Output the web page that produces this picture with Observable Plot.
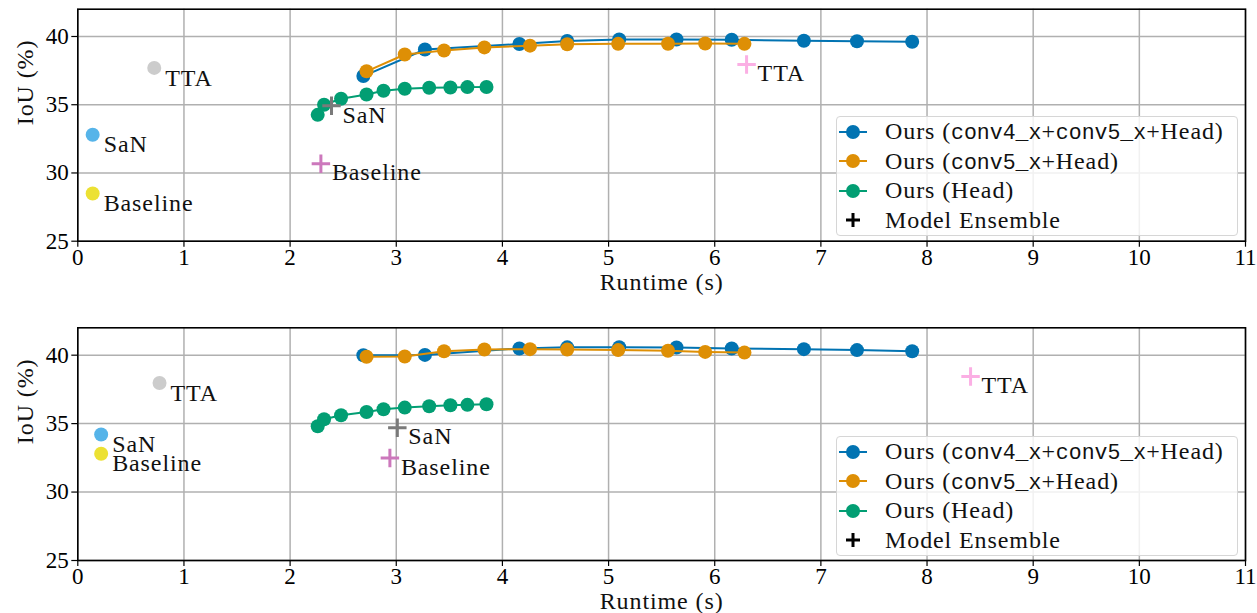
<!DOCTYPE html>
<html><head><meta charset="utf-8">
<script src="https://cdn.jsdelivr.net/npm/d3@7"></script>
<script src="https://cdn.jsdelivr.net/npm/@observablehq/plot@0.6"></script>
<style>
body{margin:0;background:#fff;}
#wrap{position:relative;width:1257px;height:613px;overflow:hidden;}
#wrap svg{display:block;}
.legend{position:absolute;left:836px;width:400px;height:118px;border:1px solid #d6d6d6;border-radius:4px;background:rgba(255,255,255,0.82);box-sizing:content-box;}
.row{height:29.5px;display:flex;align-items:center;position:relative;font-family:"Liberation Serif",serif;font-size:24px;letter-spacing:0.9px;color:#111;white-space:nowrap;}
.row svg{position:absolute;left:1px;top:4.75px;}
.row span.t{position:absolute;left:48px;}
.mono{font-family:"Liberation Mono",monospace;font-size:21.5px;letter-spacing:0;}
</style></head><body><div id="wrap"></div>
<script>
// ---- data ----
const xTicks = [0,1,2,3,4,5,6,7,8,9,10,11];
const yTicks = [25,30,35,40];
const seriesNames = ["Ours (conv4_x+conv5_x+Head)", "Ours (conv5_x+Head)", "Ours (Head)"];
const seriesColors = ["#0173B2", "#DE8F05", "#029E73"];

const allX  = [2.69, 3.27, 4.16, 4.61, 5.10, 5.64, 6.16, 6.84, 7.34, 7.86];
const c5X   = [2.72, 3.08, 3.45, 3.83, 4.26, 4.61, 5.09, 5.56, 5.91, 6.28];
const headX = [2.26, 2.32, 2.48, 2.72, 2.88, 3.08, 3.31, 3.51, 3.67, 3.85];

const allYTop  = [37.10, 39.05, 39.45, 39.67, 39.78, 39.78, 39.76, 39.69, 39.65, 39.61];
const c5YTop   = [37.45, 38.68, 38.97, 39.20, 39.33, 39.43, 39.46, 39.47, 39.49, 39.46];
const headYTop = [34.26, 35.00, 35.44, 35.75, 36.02, 36.17, 36.24, 36.26, 36.29, 36.30];

const allYBot  = [40.00, 40.02, 40.49, 40.57, 40.58, 40.56, 40.49, 40.44, 40.37, 40.29];
const c5YBot   = [39.88, 39.90, 40.29, 40.41, 40.44, 40.41, 40.37, 40.32, 40.24, 40.19];
const headYBot = [34.81, 35.32, 35.61, 35.85, 36.05, 36.17, 36.27, 36.34, 36.37, 36.41];

const soloNames  = ["TTA", "SaN", "Baseline"];
const soloColors = ["#cccccc", "#56B4E9", "#ECE133"];
const soloXTop = [0.72, 0.14, 0.14];
const soloYTop = [37.70, 32.80, 28.50];
const soloXBot = [0.77, 0.22, 0.22];
const soloYBot = [37.97, 34.20, 32.80];

const ensNames  = ["TTA", "SaN", "Baseline"];
const ensColors = ["#FBAFE4", "#7a7a7a", "#CC78BC"];
const ensXTop = [6.30, 2.39, 2.29];
const ensYTop = [37.95, 34.92, 30.68];
const ensXBot = [8.41, 3.01, 2.94];
const ensYBot = [38.44, 34.70, 32.49];

// ---- build ----
const FONT = "Liberation Serif, serif";
function rows(xs, ys){ return xs.map((x,i)=>({x, y: ys[i]})); }
function solo(xs, ys, names, colors){ return xs.map((x,i)=>({x, y: ys[i], name: names[i], color: colors[i]})); }

function panel(yAll, yC5, yHead, sx, sy, ex, ey, height, mt, mb){
  const series = [rows(allX, yAll), rows(c5X, yC5), rows(headX, yHead)];
  const soloPts = solo(sx, sy, soloNames, soloColors);
  const ensPts = solo(ex, ey, ensNames, ensColors);
  const marks = [
    Plot.gridX(xTicks, {stroke:"#b0b0b0", strokeOpacity:1, strokeWidth:1.5}),
    Plot.gridY(yTicks, {stroke:"#b0b0b0", strokeOpacity:1, strokeWidth:1.5}),
    Plot.axisX(xTicks, {tickSize:6, tickPadding:1, fontSize:23, label:null, stroke:"black", strokeWidth:1.2}),
    Plot.axisY(yTicks, {tickSize:6, tickPadding:3, fontSize:23, label:null, stroke:"black", strokeWidth:1.2}),
  ];
  series.forEach((d,i)=>{
    marks.push(Plot.line(d, {x:"x", y:"y", stroke:seriesColors[i], strokeWidth:2}));
    marks.push(Plot.dot(d, {x:"x", y:"y", fill:seriesColors[i], r:7}));
  });
  marks.push(
    Plot.dot(soloPts, {x:"x", y:"y", fill:"color", r:7}),
    Plot.dot(ensPts, {x:"x", y:"y", stroke:"color", symbol:"plus", r:6, strokeWidth:3}),
    Plot.text(soloPts, {x:"x", y:"y", text:"name", dx:11, dy:10, textAnchor:"start", fontSize:24, fill:"#111"}),
    Plot.text(ensPts, {x:"x", y:"y", text:"name", dx:11, dy:9, textAnchor:"start", fontSize:24, fill:"#111"}),
    Plot.frame({stroke:"black", strokeWidth:1.6}),
    Plot.text(["Runtime (s)"], {frameAnchor:"bottom", lineAnchor:"middle", dy:41, fontSize:24, fill:"#111"}),
    Plot.text(["IoU (%)"], {frameAnchor:"left", lineAnchor:"middle", dx:-52, rotate:-90, fontSize:24, fill:"#111"})
  );
  const svg = Plot.plot({
    width:1257, height, marginTop:mt, marginBottom:mb, marginLeft:77.3, marginRight:12,
    x:{domain:[0,11]}, y:{domain:[25,42]},
    style:{fontFamily:FONT, fontSize:"23px", color:"black", background:"white", overflow:"visible"},
    marks
  });
  // slight letter spacing on label texts to approximate the wider LaTeX font
  svg.querySelectorAll("text").forEach(t=>{
    if (!/^\d+$/.test(t.textContent.trim())) t.setAttribute("letter-spacing","0.9");
  });
  return svg;
}

const wrap = document.getElementById("wrap");
wrap.appendChild(panel(allYTop, c5YTop, headYTop, soloXTop, soloYTop, ensXTop, ensYTop, 300, 8.7, 59.3));
wrap.appendChild(panel(allYBot, c5YBot, headYBot, soloXBot, soloYBot, ensXBot, ensYBot, 313, 27.3, 53));

function legend(top){
  const box = document.createElement("div");
  box.className = "legend";
  box.style.top = top + "px";
  const labelsHtml = [
    'Ours (<span class="mono">conv4_x</span>+<span class="mono">conv5_x</span>+Head)',
    'Ours (<span class="mono">conv5_x</span>+Head)',
    'Ours (Head)',
    'Model Ensemble'
  ];
  labelsHtml.forEach((h,i)=>{
    const r = document.createElement("div");
    r.className = "row";
    let sw;
    if (i < 3) {
      sw = `<svg width="30" height="20"><line x1="1" y1="10" x2="29" y2="10" stroke="${seriesColors[i]}" stroke-width="2"/><circle cx="15" cy="10" r="7" fill="${seriesColors[i]}"/></svg>`;
    } else {
      sw = `<svg width="30" height="20"><path d="M15 3V17M8 10H22" stroke="black" stroke-width="3"/></svg>`;
    }
    r.innerHTML = sw + `<span class="t">${h}</span>`;
    box.appendChild(r);
  });
  wrap.appendChild(box);
}
legend(116);
legend(436);
</script></body></html>
